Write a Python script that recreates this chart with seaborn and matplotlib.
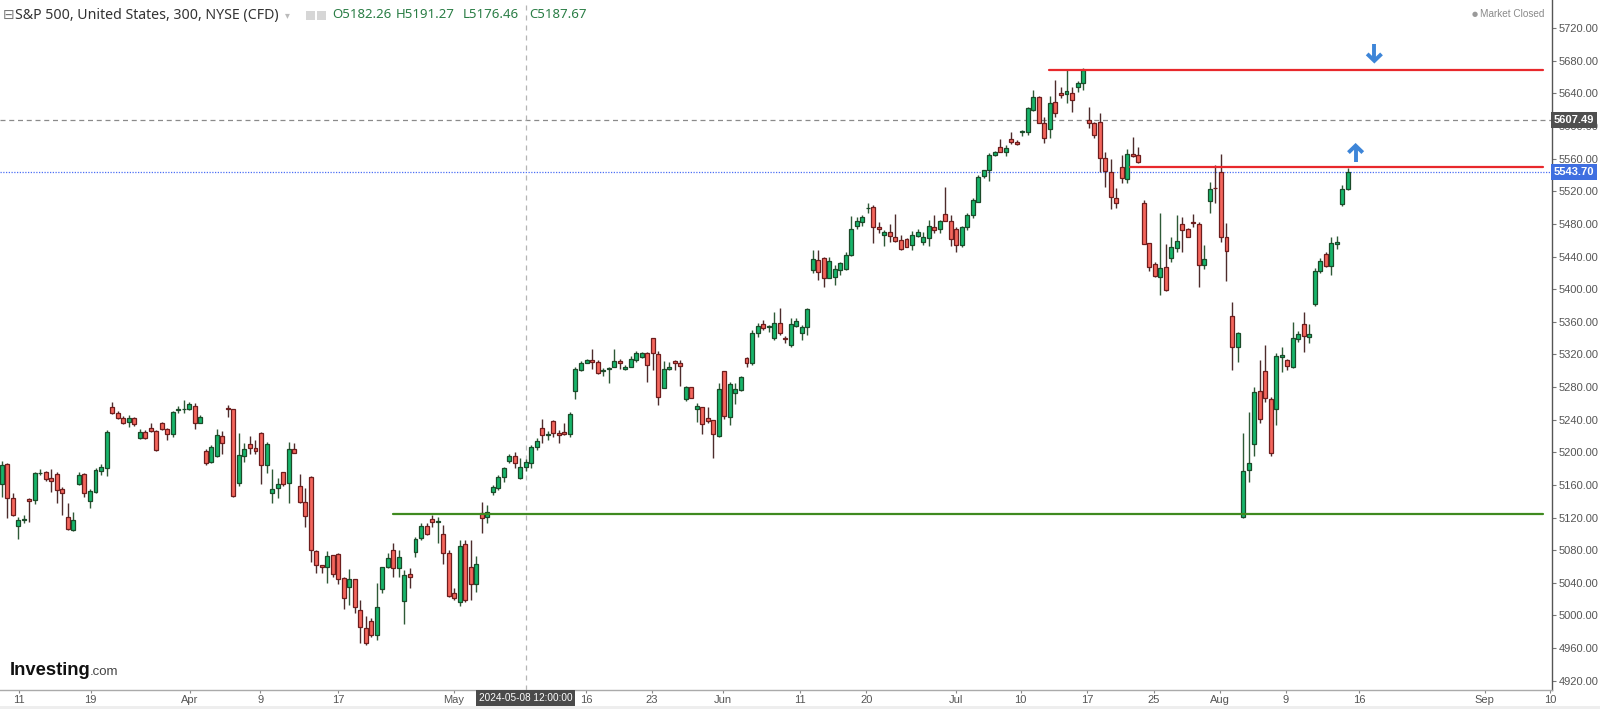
import numpy as np
import pandas as pd
import seaborn as sns
import matplotlib.pyplot as plt
from matplotlib import font_manager
from matplotlib.patches import Rectangle
from matplotlib.transforms import blended_transform_factory

# S&P 500 CFD, 300-minute candles
opens = [
    5161.1, 5185.3, 5144.3, 5110.0, 5116.7, 5142.7, 5141.1, 5174.2, 5175.5, 5168.5,
    5173.4, 5155.0, 5120.3, 5104.8, 5161.1, 5173.0, 5140.6, 5151.7, 5177.1, 5180.4,
    5255.2, 5247.8, 5241.7, 5237.5, 5241.7, 5217.9, 5224.9, 5229.4, 5226.5, 5236.3,
    5228.2, 5222.0, 5252.2, 5252.5, 5253.5, 5256.8, 5236.3, 5201.6, 5187.7, 5195.4,
    5220.0, 5254.0, 5252.7, 5162.0, 5195.8, 5209.8, 5204.9, 5223.3, 5184.4, 5150.5,
    5155.8, 5175.5, 5162.0, 5204.0, 5158.7, 5138.7, 5170.1, 5079.3, 5061.8, 5059.7,
    5074.1, 5075.3, 5045.5, 5034.4, 5044.2, 5006.6, 4984.2, 4993.5, 4976.0, 5032.0,
    5059.0, 5080.2, 5057.7, 5017.6, 5050.4, 5078.1, 5094.6, 5109.6, 5117.8, 5115.0,
    5099.8, 5076.1, 5027.1, 5016.4, 5087.5, 5059.0, 5038.5, 5125.2, 5120.3, 5151.7,
    5156.6, 5169.3, 5189.7, 5195.8, 5168.1, 5182.26, 5186.5, 5206.1, 5229.4, 5221.2,
    5237.9, 5224.0, 5225.3, 5222.4, 5275.5, 5300.9, 5309.9, 5313.2, 5310.7, 5300.0,
    5302.5, 5305.0, 5312.0, 5301.7, 5305.0, 5313.2, 5317.2, 5321.4, 5339.8, 5320.5,
    5278.5, 5301.7, 5311.9, 5309.1, 5265.3, 5279.7, 5252.7, 5255.2, 5242.5, 5239.6,
    5220.0, 5299.7, 5243.6, 5273.1, 5276.4, 5315.2, 5309.1, 5346.6, 5357.3, 5354.1,
    5339.8, 5358.9, 5340.0, 5331.5, 5355.2, 5346.6, 5354.1, 5423.5, 5435.8, 5437.9,
    5413.3, 5415.3, 5423.5, 5424.4, 5441.9, 5477.8, 5482.0, 5499.0, 5500.4, 5476.6,
    5466.1, 5470.1, 5464.4, 5460.3, 5461.2, 5453.8, 5465.6, 5457.5, 5463.1, 5475.9,
    5473.8, 5492.2, 5483.6, 5473.8, 5454.2, 5475.9, 5491.0, 5507.3, 5539.1, 5546.1,
    5564.5, 5574.7, 5567.8, 5583.8, 5580.8, 5592.8, 5593.1, 5619.7, 5636.0, 5604.1,
    5596.4, 5629.9, 5640.2, 5638.9, 5640.2, 5648.3, 5652.5, 5607.4, 5603.4, 5605.4,
    5560.5, 5544.1, 5511.4, 5549.5, 5534.8, 5565.4, 5564.5, 5505.3, 5457.0, 5430.9,
    5414.6, 5426.9, 5437.9, 5450.1, 5479.6, 5473.4, 5482.7, 5479.9, 5429.6, 5508.5,
    5524.0, 5544.1, 5463.6, 5367.1, 5328.7, 5121.0, 5178.3, 5210.2, 5275.5, 5299.7,
    5265.0, 5253.2, 5316.5, 5313.2, 5305.0, 5338.5, 5356.9, 5341.7, 5381.5, 5422.3,
    5442.8, 5428.8, 5456.0, 5504.5, 5522.9,
]
highs = [
    5189.3, 5186.9, 5150.1, 5121.0, 5123.1, 5144.3, 5176.2, 5179.1, 5176.5, 5179.1,
    5176.2, 5157.8, 5137.4, 5126.8, 5175.8, 5175.0, 5155.4, 5180.4, 5185.6, 5227.3,
    5261.3, 5251.0, 5244.5, 5245.7, 5242.9, 5228.6, 5227.3, 5235.5, 5227.3, 5237.5,
    5229.4, 5251.0, 5256.8, 5264.1, 5261.7, 5260.1, 5245.7, 5203.7, 5208.9, 5228.6,
    5226.5, 5258.0, 5253.5, 5223.3, 5211.0, 5220.0, 5215.1, 5224.5, 5212.2, 5179.1,
    5168.1, 5175.5, 5213.0, 5211.8, 5173.4, 5156.6, 5170.9, 5080.2, 5061.8, 5079.3,
    5074.1, 5076.9, 5047.4, 5056.9, 5044.2, 5018.9, 4999.3, 4996.4, 5039.4, 5059.7,
    5076.9, 5089.1, 5080.2, 5055.7, 5057.8, 5096.5, 5113.7, 5113.7, 5123.1, 5121.0,
    5110.8, 5080.2, 5033.2, 5092.5, 5092.5, 5092.5, 5072.8, 5139.4, 5135.4, 5159.9,
    5172.2, 5181.6, 5197.5, 5200.7, 5192.6, 5191.27, 5208.9, 5217.2, 5240.5, 5226.5,
    5239.6, 5227.3, 5236.3, 5249.8, 5304.9, 5312.3, 5314.0, 5326.3, 5313.2, 5303.3,
    5304.2, 5326.3, 5314.0, 5307.0, 5318.0, 5324.6, 5323.4, 5323.4, 5339.8, 5324.6,
    5312.3, 5311.1, 5313.2, 5313.2, 5281.3, 5280.4, 5260.8, 5255.9, 5255.2, 5239.6,
    5284.6, 5299.7, 5286.6, 5285.3, 5293.9, 5316.5, 5349.9, 5358.2, 5362.2, 5356.1,
    5372.4, 5376.6, 5342.0, 5364.3, 5364.3, 5356.1, 5377.3, 5448.0, 5448.0, 5439.8,
    5439.8, 5429.6, 5433.7, 5446.0, 5489.7, 5488.9, 5490.9, 5506.0, 5503.2, 5482.7,
    5472.6, 5479.9, 5491.8, 5466.4, 5462.4, 5471.7, 5473.4, 5470.5, 5484.8, 5491.0,
    5484.8, 5525.7, 5491.0, 5475.9, 5478.0, 5494.0, 5511.4, 5539.6, 5546.1, 5566.6,
    5569.8, 5584.2, 5576.8, 5592.4, 5582.9, 5595.2, 5623.8, 5644.2, 5637.2, 5611.5,
    5637.2, 5656.5, 5647.5, 5668.8, 5648.3, 5655.3, 5671.6, 5623.8, 5605.4, 5615.7,
    5567.8, 5559.3, 5523.7, 5564.5, 5571.5, 5587.0, 5574.7, 5509.4, 5457.0, 5433.7,
    5493.0, 5455.4, 5463.6, 5491.0, 5488.1, 5474.7, 5492.2, 5482.7, 5454.2, 5531.8,
    5552.3, 5565.8, 5480.8, 5383.9, 5347.9, 5224.0, 5249.8, 5280.4, 5313.2, 5331.5,
    5268.2, 5321.4, 5328.7, 5314.0, 5360.1, 5349.1, 5371.6, 5357.3, 5425.6, 5437.9,
    5446.0, 5464.4, 5465.0, 5527.8, 5548.6,
]
lows = [
    5145.2, 5119.4, 5121.5, 5093.3, 5113.3, 5114.9, 5136.6, 5172.2, 5164.8, 5151.7,
    5137.4, 5123.5, 5104.5, 5103.5, 5159.5, 5145.5, 5132.1, 5150.6, 5172.2, 5171.3,
    5246.7, 5240.5, 5235.0, 5230.6, 5232.2, 5216.3, 5216.3, 5225.3, 5201.6, 5227.3,
    5215.1, 5218.4, 5248.6, 5248.6, 5251.9, 5228.2, 5235.4, 5184.4, 5187.2, 5194.6,
    5197.9, 5243.6, 5145.5, 5158.7, 5188.5, 5197.9, 5197.9, 5161.1, 5175.0, 5138.2,
    5143.6, 5158.7, 5137.4, 5198.7, 5137.4, 5108.0, 5065.8, 5052.3, 5051.6, 5039.4,
    5047.4, 5038.5, 5007.5, 5012.7, 5002.6, 4965.8, 4963.7, 4973.9, 4969.8, 5027.8,
    5057.7, 5046.7, 5047.4, 4989.5, 5033.2, 5072.0, 5092.5, 5098.6, 5108.8, 5088.4,
    5063.0, 5022.9, 5018.9, 5011.5, 5016.4, 5018.9, 5029.0, 5101.4, 5113.0, 5147.6,
    5153.8, 5163.9, 5186.5, 5180.4, 5166.9, 5176.46, 5180.4, 5202.9, 5211.0, 5215.1,
    5219.1, 5211.0, 5221.2, 5218.4, 5265.0, 5300.0, 5309.1, 5301.7, 5296.0, 5293.6,
    5284.6, 5304.2, 5301.7, 5300.9, 5304.2, 5311.1, 5315.2, 5286.6, 5300.9, 5258.0,
    5278.5, 5300.9, 5300.9, 5281.3, 5263.2, 5266.2, 5237.5, 5222.4, 5236.3, 5192.6,
    5218.4, 5240.5, 5233.4, 5259.2, 5275.5, 5304.2, 5307.0, 5341.8, 5350.0, 5347.9,
    5337.7, 5343.8, 5334.0, 5329.1, 5354.1, 5337.7, 5343.8, 5419.5, 5411.3, 5403.0,
    5413.3, 5405.1, 5417.4, 5423.5, 5441.1, 5473.4, 5477.5, 5493.0, 5457.0, 5468.5,
    5452.9, 5458.2, 5458.2, 5448.0, 5451.4, 5448.0, 5463.6, 5454.2, 5453.0, 5468.5,
    5468.5, 5484.0, 5453.0, 5446.0, 5452.0, 5472.0, 5487.3, 5507.3, 5535.9, 5532.6,
    5563.7, 5568.6, 5563.7, 5577.6, 5576.8, 5588.2, 5589.1, 5618.5, 5603.4, 5578.9,
    5585.0, 5611.5, 5634.0, 5627.9, 5616.9, 5642.2, 5644.2, 5597.3, 5585.7, 5544.1,
    5525.7, 5498.0, 5499.1, 5529.8, 5530.6, 5561.7, 5554.4, 5455.4, 5422.7, 5414.6,
    5392.9, 5398.1, 5433.7, 5446.0, 5446.0, 5463.6, 5475.9, 5402.3, 5424.4, 5493.8,
    5505.3, 5458.2, 5410.4, 5300.9, 5311.1, 5119.0, 5163.9, 5195.4, 5236.3, 5262.0,
    5195.4, 5233.4, 5298.8, 5300.9, 5303.0, 5334.9, 5323.3, 5333.6, 5379.7, 5419.5,
    5427.6, 5417.4, 5449.0, 5502.0, 5521.6,
]
closes = [
    5184.4, 5144.3, 5122.7, 5117.0, 5118.2, 5139.9, 5174.6, 5175.0, 5167.6, 5164.4,
    5153.8, 5150.5, 5105.6, 5117.0, 5172.2, 5149.7, 5152.6, 5178.7, 5181.6, 5224.9,
    5247.8, 5241.7, 5236.3, 5241.7, 5234.3, 5224.9, 5217.9, 5226.5, 5202.9, 5228.2,
    5222.0, 5249.0, 5253.0, 5253.5, 5259.2, 5236.3, 5243.6, 5187.3, 5206.8, 5221.2,
    5211.0, 5252.7, 5146.4, 5196.3, 5204.0, 5204.9, 5202.0, 5184.4, 5209.8, 5155.0,
    5160.7, 5161.1, 5204.0, 5198.7, 5138.7, 5122.2, 5080.2, 5061.8, 5059.7, 5072.9,
    5050.4, 5044.2, 5021.7, 5044.2, 5010.7, 4985.4, 4965.8, 4976.0, 5009.9, 5059.0,
    5070.0, 5057.7, 5071.2, 5049.5, 5047.4, 5093.3, 5109.6, 5099.4, 5114.2, 5115.4,
    5076.1, 5023.8, 5021.0, 5085.1, 5018.9, 5038.5, 5063.0, 5119.8, 5127.2, 5157.8,
    5170.1, 5180.4, 5195.4, 5186.5, 5182.3, 5187.67, 5206.1, 5213.9, 5221.2, 5222.8,
    5223.3, 5221.2, 5222.4, 5246.9, 5301.7, 5309.1, 5313.2, 5310.3, 5296.9, 5300.9,
    5303.3, 5311.9, 5309.1, 5304.2, 5314.0, 5321.4, 5321.4, 5307.0, 5321.4, 5268.2,
    5301.7, 5304.2, 5309.1, 5306.2, 5279.7, 5267.0, 5256.8, 5234.7, 5238.7, 5222.1,
    5277.2, 5244.9, 5283.4, 5277.2, 5292.0, 5309.1, 5346.6, 5354.9, 5352.0, 5354.5,
    5358.9, 5346.6, 5338.7, 5357.3, 5361.4, 5354.1, 5376.1, 5437.0, 5421.5, 5414.1,
    5434.6, 5424.4, 5432.5, 5441.9, 5473.8, 5483.6, 5488.1, 5499.2, 5475.9, 5473.4,
    5470.1, 5465.2, 5459.5, 5448.9, 5452.1, 5466.1, 5470.1, 5464.4, 5477.9, 5472.6,
    5483.6, 5484.0, 5461.2, 5454.2, 5475.9, 5491.0, 5509.2, 5537.9, 5546.1, 5564.5,
    5567.8, 5568.6, 5572.7, 5580.8, 5577.6, 5593.2, 5621.8, 5635.3, 5604.1, 5585.0,
    5627.9, 5615.7, 5638.1, 5643.0, 5631.6, 5652.5, 5668.8, 5603.4, 5589.1, 5561.2,
    5544.9, 5512.7, 5506.0, 5536.0, 5565.7, 5563.7, 5555.6, 5455.4, 5427.6, 5416.5,
    5425.6, 5398.9, 5451.4, 5459.5, 5472.6, 5464.4, 5480.8, 5429.6, 5436.6, 5522.8,
    5523.7, 5463.6, 5447.2, 5328.7, 5346.6, 5177.4, 5186.5, 5274.4, 5240.5, 5266.2,
    5199.5, 5318.1, 5319.3, 5306.2, 5339.8, 5344.7, 5342.6, 5345.1, 5422.9, 5434.6,
    5428.8, 5457.0, 5458.0, 5522.9, 5543.7,
]

tick_labels = ["11", "19", "Apr", "9", "17", "May", "16", "23", "Jun", "11", "20",
               "Jul", "10", "17", "25", "Aug", "9", "16", "Sep", "10"]
tick_pos = [3.1, 16.1, 34.1, 46.9, 61.0, 82.0, 105.9, 117.9, 130.8, 144.7, 156.7,
            172.9, 184.7, 196.7, 208.8, 220.8, 232.7, 246.1, 268.8, 280.6]

resistance_high = 5668.3
resistance_low = 5549.4
support = 5124.0
prev_close = 5607.49
last_price = 5543.70
cross_idx = 95

sns.set_theme(style="white")
plt.rcParams['font.family'] = ['Liberation Sans', 'DejaVu Sans']

installed = {f.name for f in font_manager.fontManager.ttflist}
narrow = 'Liberation Sans Narrow' if 'Liberation Sans Narrow' in installed else 'Liberation Sans'

df = pd.DataFrame({'open': opens, 'high': highs, 'low': lows, 'close': closes})
df['x'] = np.arange(len(df))
df['up'] = df['close'] >= df['open']

W, H = 1600, 709
fig = plt.figure(figsize=(W / 100, H / 100), dpi=100)
fig.patch.set_facecolor('white')
ax = fig.add_axes([0, 19 / H, 1552 / W, 690 / H])
ax.set_facecolor('white')

# wicks and bodies
wick_col = np.where(df['up'], '#2e5a37', '#4d2c2c')
ax.vlines(df['x'], df['low'], df['high'], colors=wick_col, lw=1.0, zorder=2)
body_bottom = np.minimum(df['open'], df['close'])
body_h = np.maximum((df['close'] - df['open']).abs(), 0.9)
ax.bar(df['x'], body_h, bottom=body_bottom, width=0.72,
       color=np.where(df['up'], '#17b56b', '#f4665c'),
       edgecolor=np.where(df['up'], '#1b4a29', '#6e1d1d'),
       linewidth=0.9, zorder=3)

# reference lines
ax.axhline(prev_close, color='#8a8a8a', lw=0.9, ls=(0, (4, 3)), zorder=1)
ax.axhline(last_price, color='#4b6ef5', lw=0.9, ls=(0, (1, 1.2)), zorder=1)
ax.axvline(cross_idx, color='#b5b5b5', lw=0.9, ls=(0, (4, 4)), zorder=1)

ax.plot([189.8, 279.3], [resistance_high] * 2, color='#e8282c', lw=1.6, zorder=4)
ax.plot([204.6, 279.3], [resistance_low] * 2, color='#e8282c', lw=1.6, zorder=4)
ax.plot([70.9, 279.3], [support] * 2, color='#3f8a1f', lw=1.6, zorder=4)

# blue drawn arrows (stem + chevron head)
arrow_col = '#3d85d8'
arrow_kw = dict(color=arrow_col, lw=2.8, solid_capstyle='butt', solid_joinstyle='miter',
                zorder=5)
ax.plot([248.8, 248.8], [5701.0, 5681.0], **arrow_kw)
ax.plot([247.5, 248.8, 250.1], [5688.5, 5680.0, 5688.5], **arrow_kw)
ax.plot([245.4, 245.4], [5555.5, 5575.0], **arrow_kw)
ax.plot([244.1, 245.4, 246.7], [5567.5, 5576.0, 5567.5], **arrow_kw)

ax.set_xlim(-0.31, 281.0)
ax.set_ylim(4908.5, 5754.6)

# axes styling
ax.yaxis.tick_right()
yt = np.arange(4920, 5721, 40)
ax.set_yticks(yt)
ax.set_yticklabels([f"{v:.2f}" for v in yt])
ax.set_xticks(tick_pos)
ax.set_xticklabels(tick_labels)
ax.tick_params(axis='y', which='both', right=True, left=False, direction='out',
               length=3, width=0.8, color='#777777', labelsize=8,
               labelcolor='#555555', pad=2)
ax.tick_params(axis='x', bottom=True, direction='out', length=2.5, width=0.8,
               color='#888888', labelsize=8, labelcolor='#555555', pad=1)
for lab in ax.get_xticklabels():
    lab.set_family(narrow)
for side in ['top', 'left']:
    ax.spines[side].set_visible(False)
ax.spines['right'].set_color('#555555')
ax.spines['right'].set_linewidth(1)
ax.spines['bottom'].set_color('#aaaaaa')
ax.spines['bottom'].set_linewidth(1)
ax.grid(False)

# price tags on right axis
ytrans = blended_transform_factory(ax.transAxes, ax.transData)
ax.text(1.001, prev_close, f"{prev_close:.2f}", transform=ytrans, ha='left', va='center',
        fontsize=8, color='white', fontweight='bold', clip_on=False, zorder=10,
        bbox=dict(boxstyle='square,pad=0.25', fc='#4f4f4f', ec='none'))
ax.text(1.001, last_price, f"{last_price:.2f}", transform=ytrans, ha='left', va='center',
        fontsize=8, color='white', fontweight='bold', clip_on=False, zorder=10,
        bbox=dict(boxstyle='square,pad=0.25', fc='#3f6fe0', ec='none'))

# crosshair date tag
xtrans = blended_transform_factory(ax.transData, ax.transAxes)
tag_size = 8.3 if narrow != 'Liberation Sans' else 7.2
ax.text(cross_idx, -0.004, "2024-05-08 12:00:00", transform=xtrans, ha='center', va='top',
        fontsize=tag_size, color='white', family=narrow,
        clip_on=False, zorder=10,
        bbox=dict(boxstyle='square,pad=0.28', fc='#4a4a4a', ec='none'))

# bottom strip
fig.patches.append(Rectangle((0, 0), 1, 3 / H, transform=fig.transFigure,
                             fc='#eeeeee', ec='none', zorder=0))

# header
def fx(px):
    return px / W

def fy(py):
    return 1 - py / H

fig.text(fx(3), fy(15), "\u229f", fontsize=10, color='#777777', va='center',
         family=['DejaVu Sans'])
fig.text(fx(15), fy(15), "S&P 500, United States, 300, NYSE (CFD)", fontsize=10.2,
         color='#333333', va='center', family=['Noto Sans', 'DejaVu Sans'])
fig.text(fx(285), fy(15), "\u25be", fontsize=7, color='#bbbbbb', va='center',
         family=['DejaVu Sans'])
for px in (306, 317):
    fig.patches.append(Rectangle((fx(px), fy(20)), 9 / W, 9 / H, transform=fig.transFigure,
                                 fc='#d6d6d6', ec='none'))
ohlc = ["O5182.26", "H5191.27", "L5176.46", "C5187.67"]
for px, s in zip((332, 396, 463, 529), ohlc):
    fig.text(fx(px), fy(15), s, fontsize=9.5, color='#2a7d45', va='center',
             family=['Noto Sans', 'DejaVu Sans'])

fig.text(fx(1472), fy(14), "\u25cf", fontsize=5, color='#9a9a9a', va='center',
         family=['DejaVu Sans'])
fig.text(fx(1480), fy(14), "Market Closed", fontsize=7.2, color='#8a8a8a', va='center')

# logo
fig.text(fx(10), fy(675), "Investing", fontsize=13.2, fontweight='bold', color='#111111',
         va='baseline')
fig.text(fx(90), fy(675), ".com", fontsize=9.5, color='#444444', va='baseline')

fig.savefig('out.png', dpi=100, facecolor='white')
